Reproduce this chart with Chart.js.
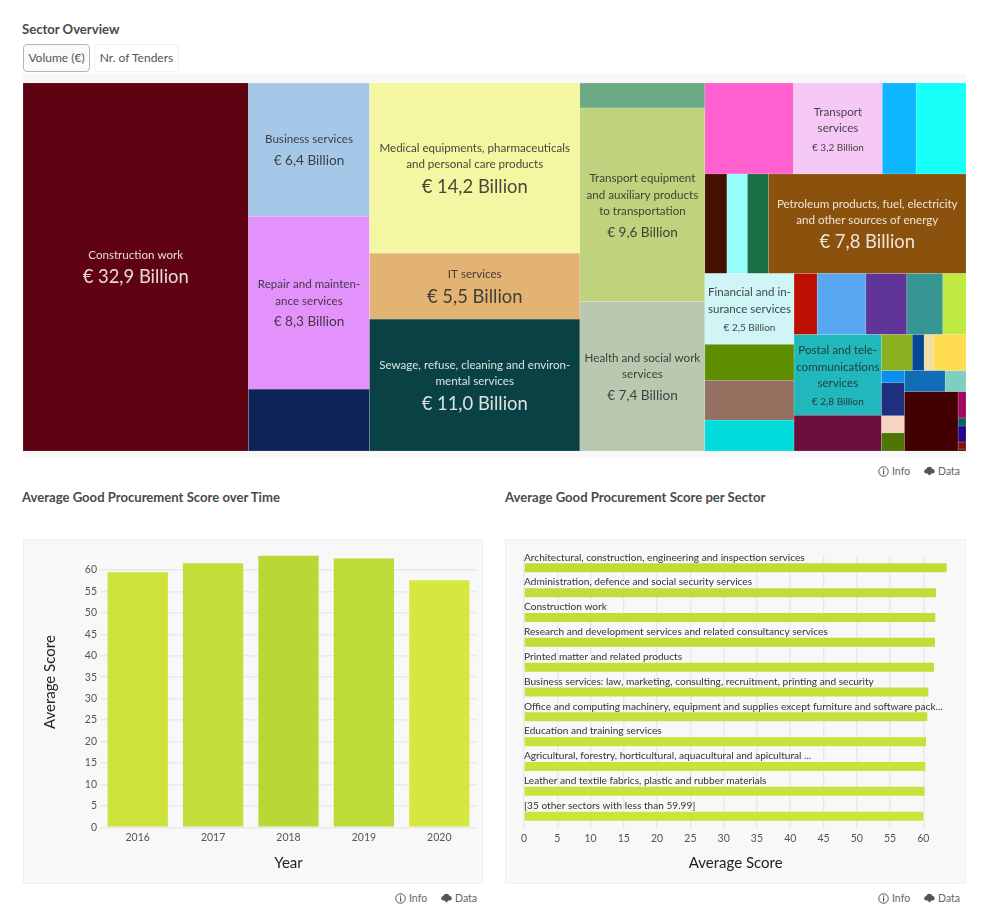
<!DOCTYPE html>
<html>
<head>
<meta charset="utf-8">
<title>Sector Overview</title>
<script src="https://cdn.jsdelivr.net/npm/chart.js@4/dist/chart.umd.js"></script>
<style>
  html, body { margin: 0; padding: 0; background: #fff; }
  body { width: 992px; height: 920px; position: relative; overflow: hidden; font-family: Lato, sans-serif; color: #444; }
  .abs { position: absolute; }
  .heading { font-size: 13.1px; font-weight: 700; color: #4a4a4a; line-height: 16px; white-space: nowrap; }
  .btn { top: 44px; height: 26px; line-height: 26px; text-align: center; font-size: 12px; color: #555; border-radius: 4px; background: #fff; border: 1px solid #f0f0f0; }
  .btn.active { background: #fafafa; border-color: #b4b4b4; }
  .panel { background: #f8f8f8; border: 1px solid #f1f1f1; box-sizing: border-box; }
  .links { font-size: 10.5px; color: #666; line-height: 14px; white-space: nowrap; display: flex; align-items: center; }
  .links svg { margin-right: 3px; }
  .links span { display: flex; align-items: center; }
  .links span + span { margin-left: 14px; }
</style>
</head>
<body>
  <div class="abs heading" style="left:22px;top:21px">Sector Overview</div>
  <div class="abs btn active" style="left:23px;width:65px">Volume (€)</div>
  <div class="abs btn" style="left:94px;width:83px">Nr. of Tenders</div>

  <div class="abs" style="left:23px;top:74px;width:943px;height:384px;background:#f8f8f8"></div>
  <div class="abs" style="left:23px;top:83px;width:943px;height:368px"><canvas id="sectorTreemap"></canvas></div>
  <div class="abs links" style="left:878px;top:464px"><span><svg width="11" height="11" viewBox="0 0 22 22"><circle cx="11" cy="11" r="9.5" fill="none" stroke="#555" stroke-width="2"/><rect x="10" y="9" width="2.4" height="8" fill="#555"/><rect x="10" y="5" width="2.4" height="2.6" fill="#555"/></svg>Info</span><span><svg width="11" height="10" viewBox="0 0 22 20"><path d="M5 15a4.5 4.5 0 0 1-.5-9A6.5 6.5 0 0 1 17 6a4.5 4.5 0 0 1 0 9h-2l-4 4-4-4z" fill="#555"/></svg>Data</span></div>

  <div class="abs heading" style="left:22px;top:489px">Average Good Procurement Score over Time</div>
  <div class="abs heading" style="left:505px;top:489px">Average Good Procurement Score per Sector</div>

  <div class="abs panel" style="left:23px;top:539px;width:460px;height:345px"></div>
  <div class="abs" style="left:23px;top:530px;width:460px;height:354px"><canvas id="scoreByYear"></canvas></div>
  <div class="abs links" style="left:395px;top:891px"><span><svg width="11" height="11" viewBox="0 0 22 22"><circle cx="11" cy="11" r="9.5" fill="none" stroke="#555" stroke-width="2"/><rect x="10" y="9" width="2.4" height="8" fill="#555"/><rect x="10" y="5" width="2.4" height="2.6" fill="#555"/></svg>Info</span><span><svg width="11" height="10" viewBox="0 0 22 20"><path d="M5 15a4.5 4.5 0 0 1-.5-9A6.5 6.5 0 0 1 17 6a4.5 4.5 0 0 1 0 9h-2l-4 4-4-4z" fill="#555"/></svg>Data</span></div>

  <div class="abs panel" style="left:505px;top:539px;width:461px;height:345px"></div>
  <div class="abs" style="left:505px;top:539px;width:461px;height:345px"><canvas id="scoreBySector"></canvas></div>
  <div class="abs links" style="left:878px;top:891px"><span><svg width="11" height="11" viewBox="0 0 22 22"><circle cx="11" cy="11" r="9.5" fill="none" stroke="#555" stroke-width="2"/><rect x="10" y="9" width="2.4" height="8" fill="#555"/><rect x="10" y="5" width="2.4" height="2.6" fill="#555"/></svg>Info</span><span><svg width="11" height="10" viewBox="0 0 22 20"><path d="M5 15a4.5 4.5 0 0 1-.5-9A6.5 6.5 0 0 1 17 6a4.5 4.5 0 0 1 0 9h-2l-4 4-4-4z" fill="#555"/></svg>Data</span></div>

<script>
// treemap data: unnamed cells are too small to carry a label in the picture
const sectorNames = [
  "Construction work", "Business services", "Repair and mainten-\nance services", "",
  "Medical equipments, pharmaceuticals\nand personal care products", "IT services",
  "Sewage, refuse, cleaning and environ-\nmental services", "",
  "Transport equipment\nand auxiliary products\nto transportation", "Health and social work\nservices",
  "", "Transport\nservices", "", "",
  "", "", "", "Petroleum products, fuel, electricity\nand other sources of energy",
  "Financial and in-\nsurance services", "", "", "",
  "", "", "", "", "",
  "Postal and tele-\ncommunications\nservices", "",
  "", "", "", "", "", "", "", "", "", "", "", "", "", "", "", ""
];
const sectorVolumes = [
  32.9, 6.4, 8.3, 2.97,
  14.2, 5.5,
  11.0, 1.24,
  9.6, 7.4,
  3.2, 3.2, 1.22, 1.8,
  0.87, 0.81, 0.83, 7.8,
  2.5, 1.27, 1.41, 1.09,
  0.56, 1.18, 0.99, 0.87, 0.56,
  2.8, 1.24,
  0.44, 0.17, 0.14, 0.46, 0.11, 0.3, 0.155, 0.164, 0.34, 0.174, 1.26, 0.082, 0.025, 0.05, 0.022, 0.006
];
const sectorColors = [
  "#5f0212", "#a6c8e8", "#e391fb", "#0e2458",
  "#f4f6a2", "#e2b373",
  "#0a4145", "#6caa83",
  "#bfd37e", "#b8c9b0",
  "#ff5fcf", "#f5c8f5", "#0cb7ff", "#16fff9",
  "#451002", "#96fdfd", "#1a6f42", "#8a520c",
  "#cff5f7", "#5f8f00", "#947060", "#00dbdb",
  "#bd0f02", "#57a8f0", "#60359a", "#389692", "#c0ea40",
  "#20b8bc", "#6b0e3e",
  "#8bb020", "#034897", "#f3dea2", "#ffdb50", "#0a8ff0", "#1e2f80", "#f7d4c0", "#4f7605",
  "#116db5", "#7fcfbf", "#420002", "#a10b5e", "#05605f", "#23078a", "#8c0d10", "#5a0a00"
];
// nesting of the cells, split direction alternates per level, starts with columns
const sectorTree = [
  0,
  [1, 2, 3],
  [4, 5, 6],
  [7, 8, 9],
  [
    [10, 11, 12, 13],
    [14, 15, 16, 17],
    [
      [18, 19, 20, 21],
      [
        [22, 23, 24, 25, 26],
        [
          [27, 28],
          [
            [29, 30, 31, 32],
            [
              [33, 34, 35, 36],
              [
                [37, 38],
                [39, [40, 41, 42, 43, 44]]
              ]
            ]
          ]
        ]
      ]
    ]
  ]
];

const years = ["2016", "2017", "2018", "2019", "2020"];
const yearScores = [59.5, 61.6, 63.3, 62.7, 57.6];
const yearColors = ["#cde33b", "#c2de3a", "#b8d935", "#bbdb37", "#d6e840"];

const sectorCategories = [
  "Architectural, construction, engineering and inspection services",
  "Administration, defence and social security services",
  "Construction work",
  "Research and development services and related consultancy services",
  "Printed matter and related products",
  "Business services: law, marketing, consulting, recruitment, printing and security",
  "Office and computing machinery, equipment and supplies except furniture and software pack...",
  "Education and training services",
  "Agricultural, forestry, horticultural, aquacultural and apicultural ...",
  "Leather and textile fabrics, plastic and rubber materials",
  "[35 other sectors with less than 59.99]"
];
const sectorScores = [63.5, 61.9, 61.8, 61.75, 61.6, 60.75, 60.6, 60.4, 60.3, 60.2, 60.0];
const sectorBarColors = ["#bddc36", "#c1de38", "#c1de38", "#c1de38", "#c2de38", "#c5e03a", "#c5e03a", "#c8e13b", "#c8e13b", "#cbe23c", "#cde33c"];

const FONT = "Lato, sans-serif";
const GRID = "#e9e9e9";
const TICK = "#555";
const TITLE = "#222";

function nodeTotal(node) {
  if (Array.isArray(node)) return node.reduce((sum, n) => sum + nodeTotal(n), 0);
  return sectorVolumes[node];
}

// walks the tree and cuts the unit square by the volumes
function layoutCells(node, x0, y0, x1, y1, vertical, out) {
  if (!Array.isArray(node)) {
    out.push({ index: node, x0, y0, x1, y1 });
    return out;
  }
  const total = nodeTotal(node);
  let pos = vertical ? y0 : x0;
  node.forEach((child) => {
    const share = nodeTotal(child) / total;
    if (vertical) {
      const next = pos + share * (y1 - y0);
      layoutCells(child, x0, pos, x1, next, false, out);
      pos = next;
    } else {
      const next = pos + share * (x1 - x0);
      layoutCells(child, pos, y0, next, y1, true, out);
      pos = next;
    }
  });
  return out;
}

const sectorCells = layoutCells(sectorTree, 0, 0, 1, 1, false, []);

function isDark(hex) {
  const r = parseInt(hex.slice(1, 3), 16);
  const g = parseInt(hex.slice(3, 5), 16);
  const b = parseInt(hex.slice(5, 7), 16);
  return 0.299 * r + 0.587 * g + 0.114 * b < 110;
}

function labelFonts(volume) {
  if (volume >= 11 || volume === 5.5 || volume === 7.8 || volume === 32.9) return [11.6, 18.4, 16, 25];
  if (volume >= 5) return [11.6, 13.6, 16.5, 21];
  return [11.6, 10, 16.5, 17];
}

const treemapPlugin = {
  id: "treemapCells",
  beforeDatasetsDraw(chart) {
    const { ctx, scales } = chart;
    sectorCells.forEach((cell) => {
      const left = scales.x.getPixelForValue(cell.x0);
      const right = scales.x.getPixelForValue(cell.x1);
      const top = scales.y.getPixelForValue(cell.y0);
      const bottom = scales.y.getPixelForValue(cell.y1);
      ctx.fillStyle = sectorColors[cell.index];
      ctx.fillRect(left, top, right - left, bottom - top);
      ctx.strokeStyle = "rgba(255,255,255,0.3)";
      ctx.lineWidth = 0.5;
      ctx.strokeRect(left, top, right - left, bottom - top);

      const name = sectorNames[cell.index];
      if (!name) return;
      const volume = sectorVolumes[cell.index];
      const lines = name.split("\n");
      const [nameSize, valueSize, nameLine, valueLine] = labelFonts(volume);
      const blockHeight = lines.length * nameLine + valueLine;
      const cx = (left + right) / 2;
      let y = (top + bottom) / 2 - blockHeight / 2 + 0.5;
      ctx.fillStyle = isDark(sectorColors[cell.index]) ? "rgba(255,255,255,0.85)" : "rgba(40,40,40,0.85)";
      ctx.textAlign = "center";
      ctx.textBaseline = "middle";
      ctx.font = nameSize + "px " + FONT;
      lines.forEach((line) => {
        ctx.fillText(line, cx, y + nameLine / 2);
        y += nameLine;
      });
      ctx.font = valueSize + "px " + FONT;
      ctx.fillText("€ " + volume.toFixed(1).replace(".", ",") + " Billion", cx, y + valueLine / 2 + 2);
    });
  }
};

new Chart(document.getElementById("sectorTreemap"), {
  type: "scatter",
  plugins: [treemapPlugin],
  data: {
    datasets: [{
      data: sectorCells.map((c) => ({ x: (c.x0 + c.x1) / 2, y: (c.y0 + c.y1) / 2 })),
      pointRadius: 0
    }]
  },
  options: {
    responsive: true,
    maintainAspectRatio: false,
    animation: false,
    layout: { padding: 0 },
    plugins: { legend: { display: false }, tooltip: { enabled: false } },
    scales: {
      x: { display: false, min: 0, max: 1 },
      y: { display: false, min: 0, max: 1, reverse: true }
    }
  }
});

new Chart(document.getElementById("scoreByYear"), {
  type: "bar",
  data: {
    labels: years,
    datasets: [{
      data: yearScores,
      backgroundColor: yearColors,
      categoryPercentage: 1,
      barPercentage: 0.8
    }]
  },
  options: {
    responsive: true,
    maintainAspectRatio: false,
    animation: false,
    layout: { padding: { left: 18, right: 6, top: 7, bottom: 12 } },
    plugins: { legend: { display: false }, tooltip: { enabled: false } },
    scales: {
      x: {
        grid: { display: false, drawTicks: false },
        border: { display: false },
        ticks: { color: TICK, font: { family: FONT, size: 10.5 }, padding: 4 },
        title: { display: true, text: "Year", color: TITLE, font: { family: FONT, size: 15 }, padding: 0 },
        afterFit: (scale) => { scale.height = 44.7; }
      },
      y: {
        min: 0,
        max: 67.7,
        grid: { color: GRID, lineWidth: 1.5, drawTicks: false },
        border: { display: false },
        ticks: { stepSize: 5, includeBounds: false, color: TICK, font: { family: FONT, size: 10.5 }, padding: 3 },
        afterBuildTicks: (scale) => { scale.ticks = scale.ticks.filter((t) => t.value <= 60); },
        title: { display: true, text: "Average Score", color: TITLE, font: { family: FONT, size: 15 }, padding: 0 },
        afterFit: (scale) => { scale.width = 59; scale.paddingTop = 0; scale.paddingBottom = 0; }
      }
    }
  }
});

// category names sit above each bar, not on an axis at the side
const barLabelPlugin = {
  id: "barLabels",
  afterDatasetsDraw(chart) {
    const { ctx } = chart;
    const bars = chart.getDatasetMeta(0).data;
    ctx.save();
    ctx.fillStyle = "#333";
    ctx.font = "10.15px " + FONT;
    ctx.textAlign = "left";
    ctx.textBaseline = "middle";
    bars.forEach((bar, i) => {
      ctx.fillText(sectorCategories[i], chart.scales.x.left, bar.y - 10.5);
    });
    ctx.restore();
  }
};

new Chart(document.getElementById("scoreBySector"), {
  type: "bar",
  plugins: [barLabelPlugin],
  data: {
    labels: sectorCategories,
    datasets: [{
      data: sectorScores,
      backgroundColor: sectorBarColors,
      categoryPercentage: 1,
      barPercentage: 0.36
    }]
  },
  options: {
    indexAxis: "y",
    responsive: true,
    maintainAspectRatio: false,
    animation: false,
    layout: { padding: { left: 19, right: 18.7, top: 16.4, bottom: 12 } },
    plugins: { legend: { display: false }, tooltip: { enabled: false } },
    scales: {
      x: {
        min: 0,
        max: 63.6,
        grid: { color: GRID, lineWidth: 1.5, drawTicks: false },
        border: { display: false },
        ticks: { stepSize: 5, includeBounds: false, color: TICK, font: { family: FONT, size: 10.5 }, padding: 4 },
        title: { display: true, text: "Average Score", color: TITLE, font: { family: FONT, size: 15 }, padding: 0 },
        afterFit: (scale) => { scale.height = 43.4; }
      },
      y: { display: false }
    }
  }
});
</script>
</body>
</html>
